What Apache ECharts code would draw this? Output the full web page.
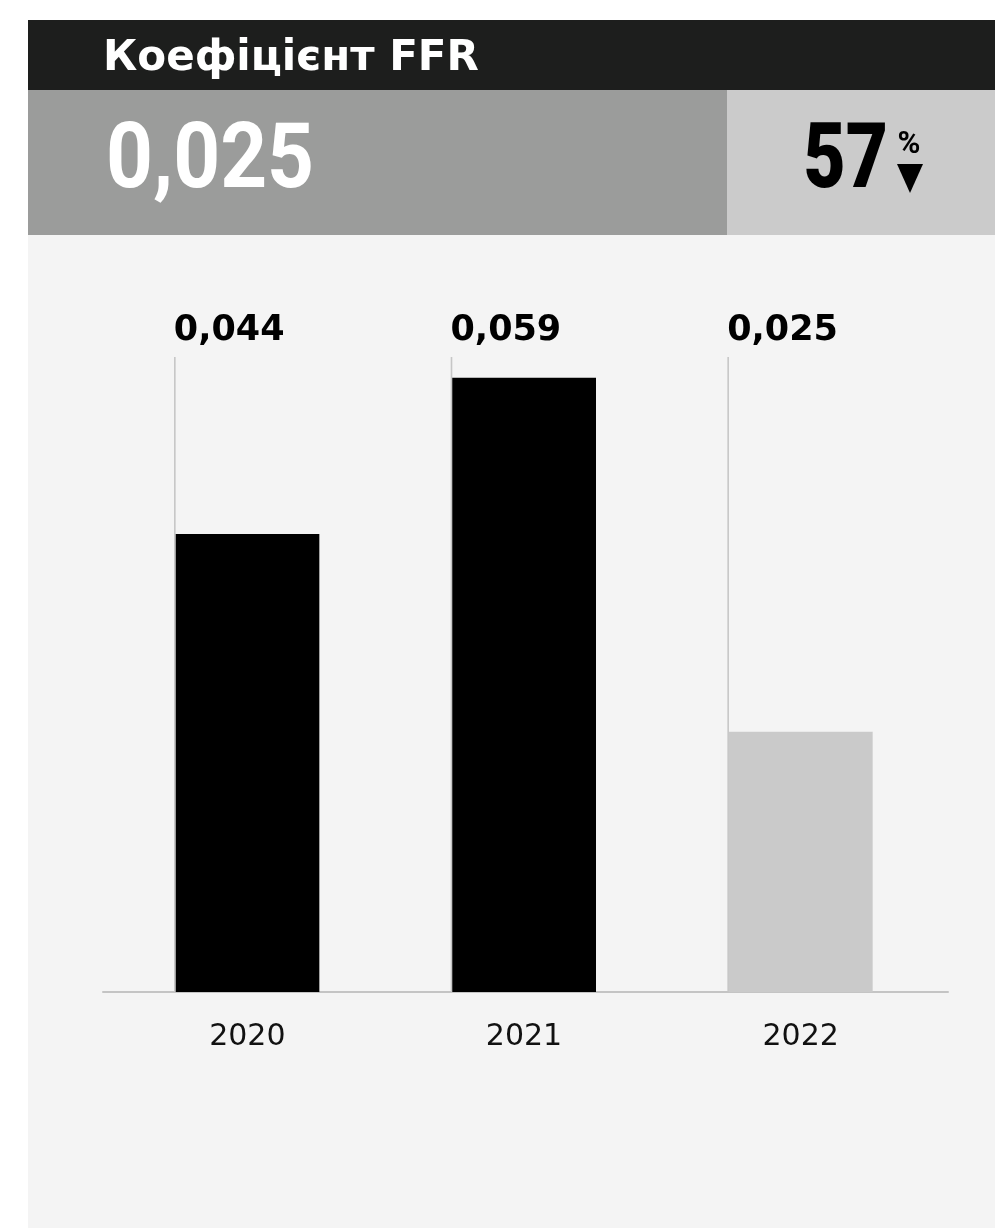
<!DOCTYPE html>
<html>
<head>
<meta charset="utf-8">
<script src="https://cdn.jsdelivr.net/npm/echarts@6/dist/echarts.min.js"></script>
<style>
html,body{margin:0;padding:0;background:#fff;}
#chart{width:995px;height:1228px;}
</style>
</head>
<body>
<div id="chart"></div>
<script>
const titleText = 'Коефіцієнт FFR';
const headlineValue = '0,025';
const changeValue = '57';
const changeUnit = '%';
const categories = ['2020', '2021', '2022'];
const values = [0.044, 0.059, 0.025];
const valueLabels = ['0,044', '0,059', '0,025'];
const barColors = ['#000000', '#000000', '#cacaca'];
const yMax = 0.061;

const chart = echarts.init(document.getElementById('chart'));
const BAR_W = 144;

const option = {
  backgroundColor: '#ffffff',
  animation: false,
  graphic: [
    { type: 'rect', z: -10, shape: { x: 28, y: 20, width: 967, height: 1208 }, style: { fill: '#f4f4f4' } },
    { type: 'rect', z: -9, shape: { x: 28, y: 20, width: 967, height: 70 }, style: { fill: '#1d1e1d' } },
    { type: 'rect', z: -9, shape: { x: 28, y: 90, width: 699, height: 145 }, style: { fill: '#9b9c9b' } },
    { type: 'rect', z: -9, shape: { x: 727, y: 90, width: 268, height: 145 }, style: { fill: '#cbcbcb' } },
    { type: 'text', z: 5, x: 103, y: 59, style: { text: titleText, fill: '#ffffff', font: 'bold 42px "DejaVu Sans"', align: 'left', verticalAlign: 'middle' } },
    { type: 'text', z: 5, x: 106, y: 164, scaleX: 0.91, style: { text: headlineValue, fill: '#ffffff', font: 'bold 90px Roboto', align: 'left', verticalAlign: 'middle' } },
    { type: 'text', z: 5, x: 888, y: 164, scaleX: 0.8, style: { text: changeValue, fill: '#000000', font: '900 91px Roboto', align: 'right', verticalAlign: 'middle' } },
    { type: 'text', z: 5, x: 909, y: 145, style: { text: changeUnit, fill: '#000000', font: 'bold 31px Roboto', align: 'center', verticalAlign: 'middle' } },
    { type: 'polygon', z: 5, shape: { points: [[897, 164], [923, 164], [910, 193]] }, style: { fill: '#000000' } }
  ],
  grid: [
    { left: 103, right: 47, top: 357, bottom: 236 },
    { left: 109, right: 56, top: 357, bottom: 236 }
  ],
  xAxis: [
    { type: 'category', gridIndex: 0, data: categories, axisLine: { show: true, lineStyle: { color: '#c4c4c4', width: 2 } }, axisTick: { show: false }, axisLabel: { show: false } },
    { type: 'category', gridIndex: 1, data: categories, axisLine: { show: false }, axisTick: { show: false },
      axisLabel: { color: '#111111', fontFamily: '"DejaVu Sans"', fontSize: 30, margin: 30 } }
  ],
  yAxis: [
    { type: 'value', gridIndex: 0, min: 0, max: yMax, show: false },
    { type: 'value', gridIndex: 1, min: 0, max: yMax, show: false }
  ],
  series: [
    {
      type: 'bar', xAxisIndex: 1, yAxisIndex: 1, barWidth: BAR_W, z: 2,
      data: values.map((v, i) => ({ value: v, itemStyle: { color: barColors[i] } }))
    },
    {
      type: 'custom', xAxisIndex: 1, yAxisIndex: 1, z: 3,
      data: values.map((v, i) => [i, v]),
      renderItem: function (params, api) {
        const idx = api.value(0);
        const base = api.coord([idx, 0]);
        const top = api.coord([idx, yMax]);
        const x = base[0] - BAR_W / 2 - 0.5;
        return {
          type: 'group',
          children: [
            { type: 'line', shape: { x1: x, y1: top[1], x2: x, y2: base[1] }, style: { stroke: '#c6c6c6', lineWidth: 1.6 } },
            { type: 'text', x: x - 1, y: top[1] - 26, style: { text: valueLabels[idx], fill: '#000000', font: 'bold 35px "DejaVu Sans"', align: 'left', verticalAlign: 'middle' } }
          ]
        };
      }
    }
  ]
};
chart.setOption(option);
</script>
</body>
</html>
